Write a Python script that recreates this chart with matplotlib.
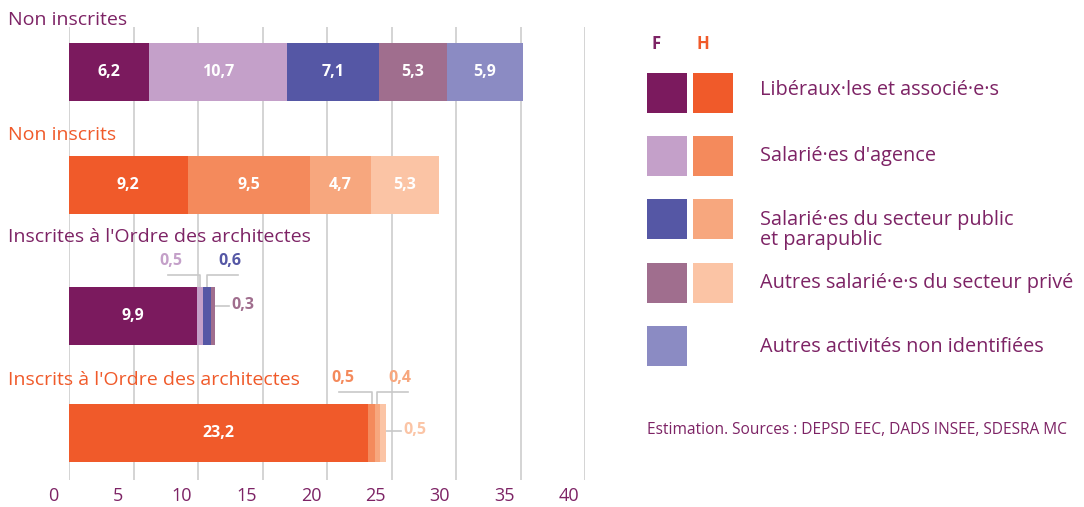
import matplotlib.pyplot as plt
from matplotlib.patches import Rectangle
from matplotlib.transforms import ScaledTranslation

plt.rcParams['font.family'] = ['Open Sans', 'DejaVu Sans']

# data
rows = ["Non inscrites", "Non inscrits",
        "Inscrites à l'Ordre des architectes", "Inscrits à l'Ordre des architectes"]
sexe = ["F", "H", "F", "H"]
non_inscrites_f = [6.2, 10.7, 7.1, 5.3, 5.9]
non_inscrits_h = [9.2, 9.5, 4.7, 5.3]
inscrites_f = [9.9, 0.5, 0.6, 0.3]
inscrits_h = [23.2, 0.5, 0.4, 0.5]
series = [non_inscrites_f, non_inscrits_h, inscrites_f, inscrits_h]

categories = ["Libéraux·les et associé·e·s", "Salarié·es d'agence",
              "Salarié·es du secteur public\net parapublic",
              "Autres salarié·e·s du secteur privé", "Autres activités non identifiées"]
colors_f = ["#7B1A5E", "#C4A0C9", "#5557A5", "#A06E8E", "#8B8BC3"]
colors_h = ["#F05A2A", "#F48A5C", "#F7A77E", "#FBC4A5"]
source = "Estimation. Sources : DEPSD EEC, DADS INSEE, SDESRA MC"

purple = "#7D2365"
orange = "#F05A2A"
grey = "#c8c8c8"

W, H = 1084, 507
fig = plt.figure(figsize=(W / 100, H / 100), dpi=100)

# main axes : x in units (0-40), y in pixel rows
x0, x1, ytop, ybot = 69, 585, 27, 480
ax = fig.add_axes([x0 / W, 1 - ybot / H, (x1 - x0) / W, (ybot - ytop) / H])
ax.set_xlim(0, 40)
ax.set_ylim(ybot, ytop)
for s in ax.spines.values():
    s.set_visible(False)
ax.set_yticks([])
ax.set_xticks(range(0, 41, 5))
ax.tick_params(axis='x', length=0, pad=5, labelsize=13, labelcolor=purple)
for lab in ax.get_xticklabels():
    lab.set_transform(lab.get_transform() + ScaledTranslation(-0.16, 0, fig.dpi_scale_trans))
ax.grid(axis='x', color="#d4d4d4", lw=1.4)
ax.set_axisbelow(True)

centers = [72, 185, 316, 433]
label_y = [20, 135, 237, 380]
bar_h = 58

for i, vals in enumerate(series):
    cols = colors_f if sexe[i] == "F" else colors_h
    left = 0
    for j, v in enumerate(vals):
        ax.barh(centers[i], v, left=left, height=bar_h, color=cols[j], zorder=3)
        if v >= 2:
            ax.text(left + v / 2, centers[i], f"{v:.1f}".replace(".", ","), ha='center',
                    va='center', color='white', fontsize=11.5, fontweight='bold', zorder=4)
        left += v
    ax.text(-4.75, label_y[i], rows[i], ha='left', va='center', fontsize=14,
            color=purple if sexe[i] == "F" else orange, clip_on=False)


def fmt(v):
    return f"{v:.1f}".replace(".", ",")


# small segment annotations with leader lines
for i, vals, cols in [(2, inscrites_f, colors_f), (3, inscrits_h, colors_h)]:
    top = centers[i] - bar_h / 2
    ly = top - 12
    ty = top - 26
    c1 = vals[0] + vals[1] / 2
    c2 = vals[0] + vals[1] + vals[2] / 2
    end = sum(vals)
    ax.plot([c1, c1, c1 - 2.5], [top, ly, ly], color=grey, lw=1.2, zorder=2)
    ax.text(c1 - 2.25, ty, fmt(vals[1]), ha='center', va='center', color=cols[1],
            fontsize=11.5, fontweight='bold')
    ax.plot([c2, c2, c2 + 2.4], [top, ly, ly], color=grey, lw=1.2, zorder=2)
    ax.text(c2 + 1.75, ty, fmt(vals[2]), ha='center', va='center', color=cols[2],
            fontsize=11.5, fontweight='bold')
    ay = centers[i] - 10 if i == 2 else centers[i] - 2
    ax.plot([end, end + 1.1], [ay, ay], color=grey, lw=1.2, zorder=2)
    ax.text(end + 1.3, ay - 1, fmt(vals[3]), ha='left', va='center', color=cols[3],
            fontsize=11.5, fontweight='bold')

# legend in pixel coordinates
lax = fig.add_axes([0, 0, 1, 1])
lax.set_xlim(0, W)
lax.set_ylim(H, 0)
lax.axis('off')
lax.text(656, 44, "F", ha='center', va='center', fontsize=12, fontweight='bold', color=purple)
lax.text(703, 44, "H", ha='center', va='center', fontsize=12, fontweight='bold', color=orange)
sq_top = [73, 136, 199, 263, 326]
lab_y = [90, 156, 230, 283, 347]
for k, cat in enumerate(categories):
    lax.add_patch(Rectangle((647, sq_top[k]), 40, 40, color=colors_f[k], lw=0))
    if k < len(colors_h):
        lax.add_patch(Rectangle((693, sq_top[k]), 40, 40, color=colors_h[k], lw=0))
    lax.text(760, lab_y[k], cat, ha='left', va='center', fontsize=14.3, color=purple,
             linespacing=1.0)
lax.text(647, 430, source, ha='left', va='center', fontsize=11.2, color=purple)

fig.savefig("out.png", dpi=100)
